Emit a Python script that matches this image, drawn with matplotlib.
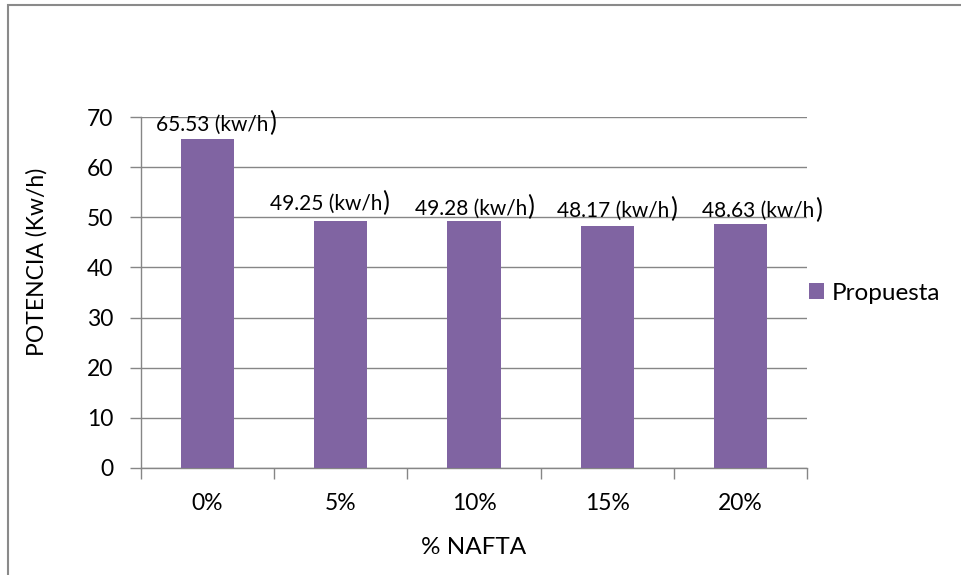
import matplotlib
matplotlib.use("Agg")
import matplotlib.pyplot as plt
from matplotlib.patches import Rectangle, Patch

# Data
categories = ["0%", "5%", "10%", "15%", "20%"]
potencia = [65.53, 49.25, 49.28, 48.17, 48.63]
series_name = "Propuesta"
y_ticks = [0, 10, 20, 30, 40, 50, 60, 70]

# Style
BAR_COLOR = "#8064A2"
GRID_COLOR = "#868686"
TEXT_COLOR = "#000000"
FONT = ["Lato", "DejaVu Sans"]
label_dx = [9, -11, 1, 10, 22]      # label shifts in pixels
label_dy = [9, 11, 6, 10, 7]

W, H, DPI = 961, 575, 100
fig = plt.figure(figsize=(W / DPI, H / DPI), dpi=DPI)
plt.rcParams["font.family"] = FONT

# outer chart frame
fig.patches.append(Rectangle((8 / W, -0.05), 1.2, 1 - 4.5 / H + 0.05,
                             transform=fig.transFigure, fill=False,
                             edgecolor="#8a8a8a", linewidth=1.5))

L, R, T, B = 141, 807, 117, 468
ax = fig.add_axes([L / W, 1 - B / H, (R - L) / W, (B - T) / H])

x = list(range(len(categories)))
bars = ax.bar(x, potencia, width=0.4, color=BAR_COLOR, zorder=3)

ax.set_xlim(-0.5, len(categories) - 0.5)
ax.set_ylim(0, 70)
ax.set_yticks(y_ticks)
ax.set_yticklabels([str(t) for t in y_ticks], fontsize=16.5, color=TEXT_COLOR)
ax.yaxis.grid(True, color=GRID_COLOR, linewidth=1.0, zorder=0)
ax.set_axisbelow(True)

# category ticks sit between categories
ax.set_xticks([i - 0.5 for i in range(len(categories) + 1)], minor=False)
ax.set_xticklabels([""] * (len(categories) + 1))
ax.set_xticks(x, minor=True)
ax.set_xticklabels(categories, minor=True, fontsize=16.5, color=TEXT_COLOR)
ax.tick_params(axis="x", which="major", length=8, color=GRID_COLOR, width=1)
ax.tick_params(axis="x", which="minor", length=0, pad=18)
ax.tick_params(axis="y", length=8, color=GRID_COLOR, width=1, pad=12)

for s in ["top", "right"]:
    ax.spines[s].set_visible(False)
for s in ["left", "bottom"]:
    ax.spines[s].set_color(GRID_COLOR)
    ax.spines[s].set_linewidth(1.0)

# value labels, with the closing parenthesis set a little larger
fig.canvas.draw()
renderer = fig.canvas.get_renderer()
for i, v in enumerate(potencia):
    t = ax.annotate(f"{v:.2f} (kw/h", xy=(i, v), xytext=(label_dx[i] - 4, label_dy[i]),
                    textcoords="offset pixels", ha="center", va="baseline",
                    fontsize=15, color=TEXT_COLOR)
    bb = t.get_window_extent(renderer)
    fig.text(bb.x1 / W + 0.5 / W, (bb.y0 + 3.5) / H, ")", fontsize=18.5,
             ha="left", va="baseline", color=TEXT_COLOR)

fig.text(474 / W, 1 - 547 / H, "% NAFTA", fontsize=17.5,
         ha="center", va="center", color=TEXT_COLOR)
fig.text(36.5 / W, 1 - 261.5 / H, "POTENCIA (Kw/h)", rotation=90, fontsize=16.5,
         ha="center", va="center", color=TEXT_COLOR)

leg = ax.legend(handles=[Patch(facecolor=BAR_COLOR, label=series_name)],
                loc="center left", bbox_to_anchor=(809 / W, 1 - 293 / H),
                bbox_transform=fig.transFigure, frameon=False, fontsize=17.5,
                handlelength=0.62, handleheight=0.62, handletextpad=0.3,
                borderaxespad=0, borderpad=0)

fig.savefig("out.png", dpi=DPI)
